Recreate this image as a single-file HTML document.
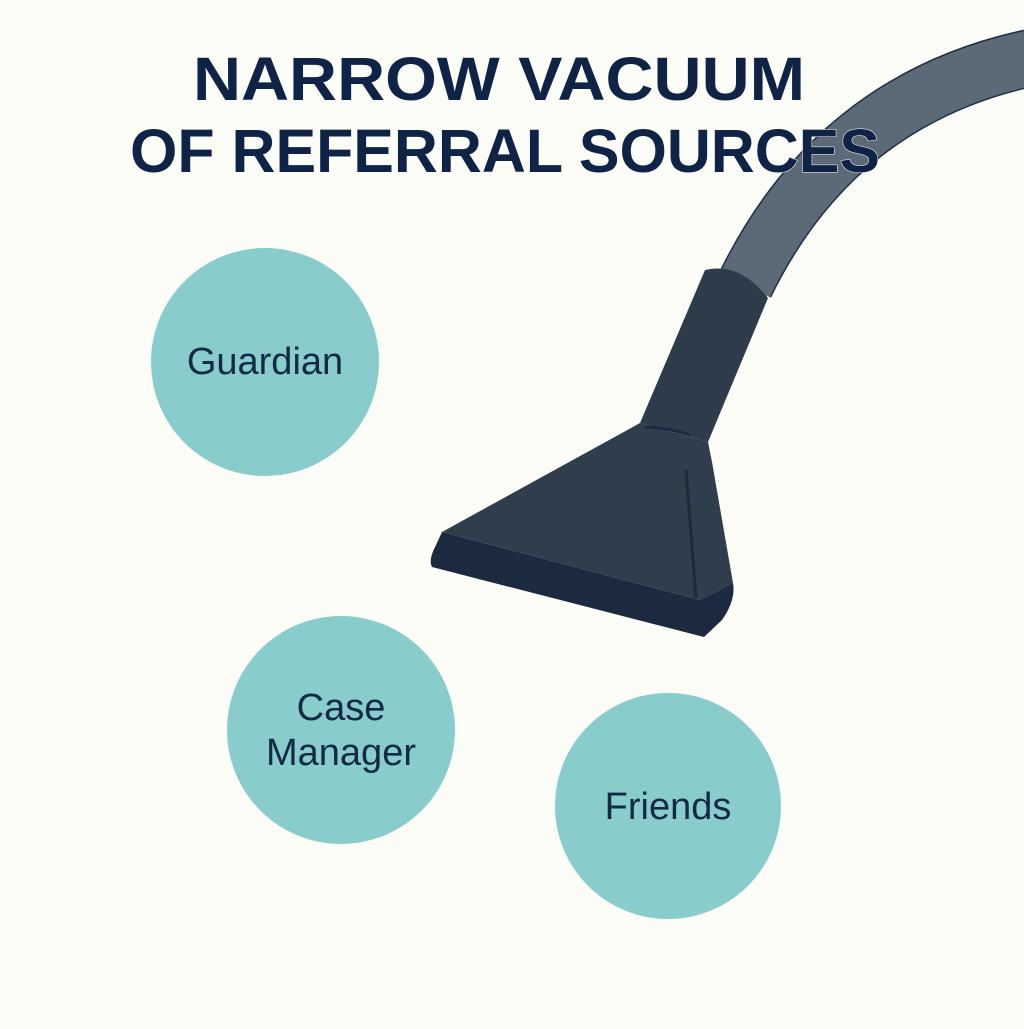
<!DOCTYPE html>
<html><head><style>html,body{margin:0;padding:0;background:#fdfdf8;}</style></head>
<body>
<svg width="1024" height="1024" viewBox="0 0 1024 1024" xmlns="http://www.w3.org/2000/svg">
<rect width="1024" height="1024" fill="#fdfdf8"/>
<path d="M745 285 Q835 100 1030 58" fill="none" stroke="#1e2f45" stroke-width="58"/>
<path d="M745 285 Q835 100 1030 58" fill="none" stroke="#5c6a78" stroke-width="55"/>
<g font-family="Liberation Sans, sans-serif" font-weight="bold" fill="#0f2347" stroke="#fdfdf8" stroke-width="1" paint-order="stroke" font-size="61">
<text x="193" y="100" textLength="612" lengthAdjust="spacingAndGlyphs">NARROW VACUUM</text>
<text x="130" y="172" textLength="750" lengthAdjust="spacingAndGlyphs">OF REFERRAL SOURCES</text>
</g>
<path d="M705 270 Q740 262 768 298 L708 442 L640 423 Z" fill="#2e3b4a"/>
<path d="M640 423 L708 442 L712 462 L733 583 L700 600 L442 532 Z" fill="#303d4c"/>
<path d="M442 532 L700 600 L733 583 Q736 600 722 620 L704 637 L432 567 Q428 560 436 545 Z" fill="#1b2a3f"/>
<path d="M686 470 L696 598" stroke="#1b2a3f" stroke-width="3"/>
<path d="M645 427 Q670 428 690 435" stroke="#1b2a3f" stroke-width="3" fill="none"/>
<g fill="#88cccc"><circle cx="265" cy="362" r="114"/><circle cx="341" cy="730" r="114"/><circle cx="668" cy="806" r="113"/></g>
<g font-family="Liberation Sans, sans-serif" font-size="38" fill="#132a45" text-anchor="middle">
<text x="265" y="374">Guardian</text>
<text x="341" y="720">Case</text>
<text x="341" y="765">Manager</text>
<text x="668" y="819">Friends</text>
</g>
</svg>
</body></html>
